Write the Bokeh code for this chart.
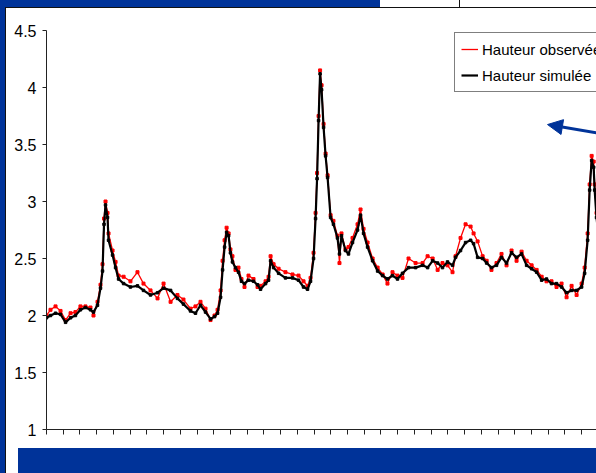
from bokeh.plotting import figure
from bokeh.models import (FixedTicker, Arrow, NormalHead, Legend, LegendItem, Range1d)
from bokeh.embed import file_html
from bokeh.resources import INLINE

# position along the (unlabelled) category axis, in tick-interval units
t = [0.00, 0.24, 0.54, 0.84, 1.14, 1.44, 1.73, 2.03, 2.33, 2.63,
     2.81, 3.05, 3.23, 3.35, 3.44, 3.53, 3.65, 3.71, 3.95, 4.13,
     4.31, 4.61, 5.02, 5.44, 5.80, 6.22, 6.64, 7.00, 7.42, 7.83,
     8.19, 8.61, 8.91, 9.21, 9.51, 9.81, 10.05, 10.23, 10.41, 10.53,
     10.65, 10.77, 10.89, 11.00, 11.12, 11.30, 11.48, 11.66, 11.84, 12.08,
     12.38, 12.62, 12.80, 13.10, 13.28, 13.40, 13.58, 13.88, 14.29, 14.71,
     15.07, 15.37, 15.61, 15.79, 15.97, 16.09, 16.18, 16.27, 16.36, 16.45,
     16.57, 16.69, 16.81, 16.99, 17.16, 17.40, 17.52, 17.64, 17.88, 18.06,
     18.30, 18.60, 18.78, 18.96, 19.20, 19.50, 19.80, 20.10, 20.39, 20.69,
     20.99, 21.29, 21.65, 22.07, 22.49, 22.79, 23.09, 23.39, 23.68, 23.98,
     24.28, 24.46, 24.76, 25.06, 25.36, 25.54, 25.78, 26.08, 26.32, 26.61,
     26.91, 27.21, 27.51, 27.81, 28.11, 28.41, 28.71, 29.01, 29.31, 29.61,
     29.90, 30.20, 30.50, 30.80, 31.10, 31.40, 31.70, 32.00, 32.18, 32.36,
     32.48, 32.60, 32.72, 32.78, 32.89, 33.01]

hauteur_simulee = [1.98, 2.00, 2.02, 2.01, 1.94, 1.98, 2.00, 2.05, 2.07, 2.05,
                   2.03, 2.09, 2.24, 2.39, 2.80, 2.97, 2.86, 2.66, 2.53, 2.42,
                   2.32, 2.28, 2.25, 2.26, 2.22, 2.18, 2.20, 2.24, 2.22, 2.15,
                   2.10, 2.04, 2.02, 2.09, 2.03, 1.97, 1.99, 2.02, 2.16, 2.40,
                   2.60, 2.73, 2.70, 2.55, 2.47, 2.42, 2.38, 2.30, 2.28, 2.31,
                   2.30, 2.27, 2.23, 2.28, 2.31, 2.48, 2.42, 2.37, 2.33, 2.33,
                   2.31, 2.25, 2.23, 2.30, 2.50, 2.85, 3.20, 3.71, 4.12, 3.98,
                   3.65, 3.40, 3.21, 2.86, 2.80, 2.68, 2.54, 2.70, 2.57, 2.54,
                   2.64, 2.75, 2.88, 2.72, 2.60, 2.48, 2.39, 2.35, 2.32, 2.35,
                   2.32, 2.37, 2.42, 2.42, 2.44, 2.42, 2.48, 2.46, 2.42, 2.47,
                   2.44, 2.51, 2.57, 2.64, 2.66, 2.63, 2.51, 2.50, 2.46, 2.42,
                   2.44, 2.51, 2.46, 2.55, 2.51, 2.54, 2.44, 2.41, 2.38, 2.31,
                   2.32, 2.28, 2.28, 2.25, 2.20, 2.22, 2.22, 2.25, 2.37, 2.66,
                   3.10, 3.36, 3.30, 3.10, 2.86, 2.70]

hauteur_observee = [2.00, 2.05, 2.08, 2.04, 1.96, 2.02, 2.03, 2.08, 2.08, 2.07,
                    2.00, 2.12, 2.27, 2.45, 2.85, 3.00, 2.90, 2.72, 2.57, 2.47,
                    2.35, 2.34, 2.30, 2.38, 2.28, 2.22, 2.15, 2.28, 2.12, 2.18,
                    2.14, 2.06, 2.08, 2.12, 2.06, 1.96, 2.00, 2.05, 2.22, 2.48,
                    2.66, 2.77, 2.72, 2.58, 2.52, 2.40, 2.42, 2.32, 2.25, 2.35,
                    2.32, 2.25, 2.26, 2.30, 2.34, 2.52, 2.45, 2.41, 2.38, 2.36,
                    2.35, 2.30, 2.26, 2.33, 2.55, 2.90, 3.25, 3.75, 4.15, 4.02,
                    3.68, 3.42, 3.23, 2.88, 2.83, 2.70, 2.46, 2.72, 2.58, 2.60,
                    2.68, 2.80, 2.93, 2.76, 2.64, 2.50, 2.42, 2.36, 2.28, 2.38,
                    2.35, 2.33, 2.50, 2.46, 2.46, 2.52, 2.50, 2.40, 2.46, 2.44,
                    2.38, 2.52, 2.68, 2.80, 2.78, 2.72, 2.65, 2.52, 2.48, 2.40,
                    2.46, 2.54, 2.44, 2.57, 2.48, 2.56, 2.48, 2.44, 2.40, 2.34,
                    2.30, 2.30, 2.25, 2.28, 2.16, 2.26, 2.18, 2.28, 2.42, 2.72,
                    3.15, 3.40, 3.35, 3.15, 2.90, 2.72]

series_names = ["Hauteur observée", "Hauteur simulée"]
y_ticks = [1, 1.5, 2, 2.5, 3, 3.5, 4, 4.5]
y_tick_labels = ["1", "1.5", "2", "2.5", "3", "3.5", "4", "4.5"]
x_ticks = list(range(0, 34))

BLUE = "#003399"
FONT = "Liberation Sans"

# slide decoration painted as CSS background layers behind a transparent canvas
slide_bg = ", ".join([
    f"linear-gradient({BLUE},{BLUE}) 0 0 / 5px 100% no-repeat",
    "linear-gradient(#111,#111) 5px 7px / 1px 100% no-repeat",
    f"linear-gradient({BLUE},{BLUE}) 0 0 / 380px 7px no-repeat",
    "linear-gradient(#111,#111) 5px 7px / 591px 1px no-repeat",
    "linear-gradient(#111,#111) 459px 0 / 1px 7px no-repeat",
    f"linear-gradient({BLUE},{BLUE}) 18px 448px / 578px 25px no-repeat",
    "white",
])

p = figure(width=596, height=473, output_backend="svg", toolbar_location=None,
           x_range=Range1d(0, 32.89), y_range=Range1d(1, 4.5),
           min_border_left=46, min_border_right=0, min_border_top=30,
           min_border_bottom=44,
           styles={"background": slide_bg})
p.background_fill_color = "white"
p.border_fill_alpha = 0
p.outline_line_color = None
p.xgrid.visible = False
p.ygrid.visible = False

# axes
p.yaxis.ticker = FixedTicker(ticks=y_ticks)
p.yaxis.major_label_overrides = {k: v for k, v in zip(y_ticks, y_tick_labels)}
p.yaxis.major_label_text_font = FONT
p.yaxis.major_label_text_font_size = "16px"
p.yaxis.major_label_text_color = "black"
p.yaxis.major_tick_out = 4
p.yaxis.major_tick_in = 0
p.yaxis.minor_tick_out = 0
p.yaxis.minor_tick_in = 0
p.yaxis.major_label_standoff = 6
p.yaxis.axis_line_color = "#222222"
p.yaxis.major_tick_line_color = "#222222"

p.xaxis.ticker = FixedTicker(ticks=x_ticks)
p.xaxis.major_label_overrides = {k: "" for k in x_ticks}
p.xaxis.major_tick_out = 5
p.xaxis.major_tick_in = 0
p.xaxis.minor_tick_out = 0
p.xaxis.minor_tick_in = 0
p.xaxis.axis_line_color = "#222222"
p.xaxis.major_tick_line_color = "#222222"

# series
r_obs_l = p.line(t, hauteur_observee, line_color="#FF0000", line_width=1.3)
p.scatter(t, hauteur_observee, marker="square", size=3,
          fill_color="#FF0000", line_color="#FF0000")
r_sim_l = p.line(t, hauteur_simulee, line_color="black", line_width=2.2)
p.scatter(t, hauteur_simulee, marker="square", size=2.5,
          fill_color="black", line_color="black")

legend = Legend(items=[LegendItem(label=series_names[0], renderers=[r_obs_l]),
                       LegendItem(label=series_names[1], renderers=[r_sim_l])],
                location=(408, 337), orientation="vertical")
legend.border_line_color = "black"
legend.border_line_width = 1
legend.background_fill_color = "white"
legend.background_fill_alpha = 1
legend.label_text_font = FONT
legend.label_text_font_size = "15px"
legend.label_text_color = "black"
legend.glyph_width = 17
legend.glyph_height = 20
legend.label_height = 20
legend.spacing = 6
legend.padding = 6
legend.label_standoff = 4
legend.margin = 0
p.add_layout(legend)

# arrow pointing at the legend
p.add_layout(Arrow(end=NormalHead(size=15, fill_color=BLUE, line_color=BLUE),
                   x_start=33.13, y_start=3.596, x_end=29.96, y_end=3.675,
                   line_color=BLUE, line_width=3))

open("out.html", "w").write(file_html(p, INLINE))
